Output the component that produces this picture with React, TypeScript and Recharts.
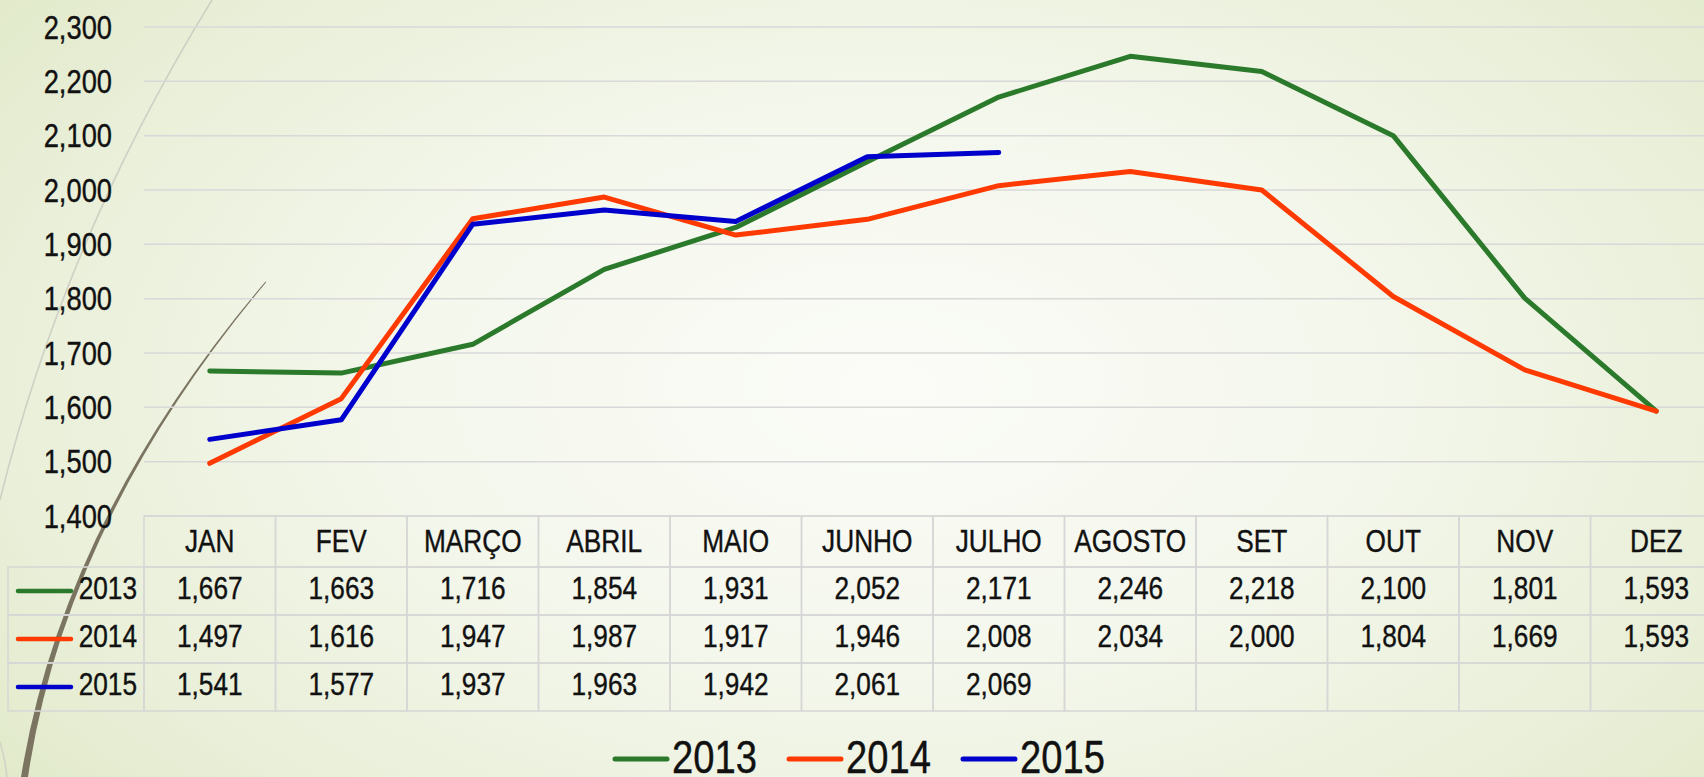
import React from 'react';
import { LineChart, Line, XAxis, YAxis, CartesianGrid, Legend } from 'recharts';

// ---------- data ----------
const months = ['JAN', 'FEV', 'MARÇO', 'ABRIL', 'MAIO', 'JUNHO', 'JULHO', 'AGOSTO', 'SET', 'OUT', 'NOV', 'DEZ'];
const values2013 = [1667, 1663, 1716, 1854, 1931, 2052, 2171, 2246, 2218, 2100, 1801, 1593];
const values2014 = [1497, 1616, 1947, 1987, 1917, 1946, 2008, 2034, 2000, 1804, 1669, 1593];
const values2015 = [1541, 1577, 1937, 1963, 1942, 2061, 2069];
const yTicks = [1400, 1500, 1600, 1700, 1800, 1900, 2000, 2100, 2200, 2300];
const seriesNames = ['2013', '2014', '2015'];
const seriesKeys = ['y2013', 'y2014', 'y2015'];
const seriesValues = [values2013, values2014, values2015];
const seriesColors = ['#2b7a2b', '#ff3a00', '#0000cc'];

const data = months.map((m, i) => ({
  month: m,
  y2013: values2013[i] ?? null,
  y2014: values2014[i] ?? null,
  y2015: values2015[i] ?? null,
}));

// ---------- layout ----------
const PAGE_W = 1704;
const PAGE_H = 777;
const CHART_W = 1722;
const CHART_H = 777;
const PLOT_LEFT = 144;
const PLOT_TOP = 27;
const TABLE_H = 195;
const LEGEND_H = 66;
const COL_W = (CHART_W - PLOT_LEFT) / 12;
const HEADER_H = 51;
const ROW_H = 48;
const BORDER = '#d6d6d6';
const FONT = "'Liberation Sans', Arial, sans-serif";
const NARROW = 0.82;
const TEXT_COLOR = '#111111';
const fmt = (v: number) => v.toLocaleString('en-US');

// Arial-Narrow look: Liberation Sans condensed horizontally
const NText = ({ x, y, anchor = 'start', size = 32, children }: any) => (
  <g transform={`translate(${x} ${y}) scale(${NARROW} 1)`}>
    <text
      x={0}
      y={0}
      textAnchor={anchor}
      fontFamily={FONT}
      fontSize={size}
      fill={TEXT_COLOR}
      stroke={TEXT_COLOR}
      strokeWidth={0.4}
    >
      {children}
    </text>
  </g>
);

const YTick = (props: any) => {
  const { x, y, payload } = props;
  return (
    <NText x={x} y={y + 11.8} anchor="end" size={33.3}>
      {fmt(payload.value)}
    </NText>
  );
};

const TableTick = (props: any) => {
  const { x, y, payload } = props;
  const idx = months.indexOf(payload.value);
  const left = x - COL_W / 2;
  return (
    <g>
      <rect x={left} y={y} width={COL_W} height={HEADER_H} fill="none" stroke={BORDER} strokeWidth={1.5} />
      <NText x={x} y={y + 36} anchor="middle">
        {payload.value}
      </NText>
      {seriesValues.map((vals, r) => {
        const top = y + HEADER_H + r * ROW_H;
        const v = vals[idx];
        return (
          <g key={r}>
            <rect x={left} y={top} width={COL_W} height={ROW_H} fill="none" stroke={BORDER} strokeWidth={1.5} />
            {v != null && (
              <NText x={x} y={top + 31.5} anchor="middle">
                {fmt(v)}
              </NText>
            )}
          </g>
        );
      })}
      {idx === 0 &&
        seriesNames.map((name, r) => {
          const top = y + HEADER_H + r * ROW_H;
          const lx = left - 136;
          return (
            <g key={'leg' + r}>
              <rect x={lx} y={top} width={136} height={ROW_H} fill="none" stroke={BORDER} strokeWidth={1.5} />
              <line x1={lx + 10} x2={lx + 63} y1={top + ROW_H / 2} y2={top + ROW_H / 2} stroke={seriesColors[r]} strokeWidth={4.5} strokeLinecap="round" />
              <NText x={left - 7} y={top + 31.5} anchor="end">
                {name}
              </NText>
            </g>
          );
        })}
    </g>
  );
};

const LEG_STEP = 174;
const LegendContent = (props: any) => {
  const items = props.payload || [];
  const total = items.length * LEG_STEP - 30;
  const start = CHART_W / 2 - 2 - total / 2;
  return (
    <svg width={CHART_W} height={LEGEND_H} style={{ display: 'block' }}>
      {items.map((it: any, i: number) => {
        const x0 = start + i * LEG_STEP;
        return (
          <g key={i}>
            <line x1={x0 + 2} x2={x0 + 54} y1={48} y2={48} stroke={it.color} strokeWidth={5} strokeLinecap="round" />
            <NText x={x0 + 59} y={61.5} size={46.6}>
              {it.value}
            </NText>
          </g>
        );
      })}
    </svg>
  );
};

const Decorations = () => (
  <svg width={PAGE_W} height={PAGE_H} style={{ position: 'absolute', left: 0, top: 0 }}>
    <path d="M212,0 Q64,240 0,500" fill="none" stroke="#cfd0c4" strokeWidth={1.6} />
    <path d="M265.5,281.5 Q62.5,520 21,777 L28,777 Q65.5,522 266,282.5 Z" fill="#7b7460" />
    <path d="M0,742 Q5,758 7,777" fill="none" stroke="#d0d2c6" strokeWidth={1.5} />
  </svg>
);

export default function App() {
  return (
    <div
      style={{
        position: 'absolute',
        left: 0,
        top: 0,
        width: PAGE_W,
        height: PAGE_H,
        overflow: 'hidden',
        background:
          'radial-gradient(ellipse 70% 90% at 52% 50%, #fbfcf8 0%, #f4f7ec 40%, #e9efd8 75%, #dfe8c5 100%)',
      }}
    >
      <Decorations />
      <div style={{ position: 'absolute', left: 0, top: 0 }}>
        <LineChart width={CHART_W} height={CHART_H} data={data} margin={{ top: PLOT_TOP, right: 0, bottom: 0, left: 0 }}>
          <CartesianGrid vertical={false} stroke="#d8d8d8" strokeWidth={1.5} />
          <XAxis
            dataKey="month"
            type="category"
            height={TABLE_H}
            interval={0}
            tickLine={false}
            axisLine={false}
            tickSize={0}
            tickMargin={0}
            padding={{ left: COL_W / 2, right: COL_W / 2 }}
            tick={<TableTick />}
          />
          <YAxis
            type="number"
            domain={[1400, 2300]}
            ticks={yTicks}
            width={PLOT_LEFT}
            tickLine={false}
            axisLine={false}
            tickSize={0}
            tickMargin={32}
            tick={<YTick />}
          />
          <Legend
            verticalAlign="bottom"
            content={<LegendContent />}
            wrapperStyle={{ left: 0, bottom: 0, width: CHART_W, height: LEGEND_H }}
          />
          {seriesKeys.map((k, i) => (
            <Line
              key={k}
              dataKey={k}
              name={seriesNames[i]}
              stroke={seriesColors[i]}
              strokeWidth={5}
              strokeLinecap="round"
              strokeLinejoin="round"
              dot={false}
              activeDot={false}
              isAnimationActive={false}
              connectNulls={false}
            />
          ))}
        </LineChart>
      </div>
    </div>
  );
}
